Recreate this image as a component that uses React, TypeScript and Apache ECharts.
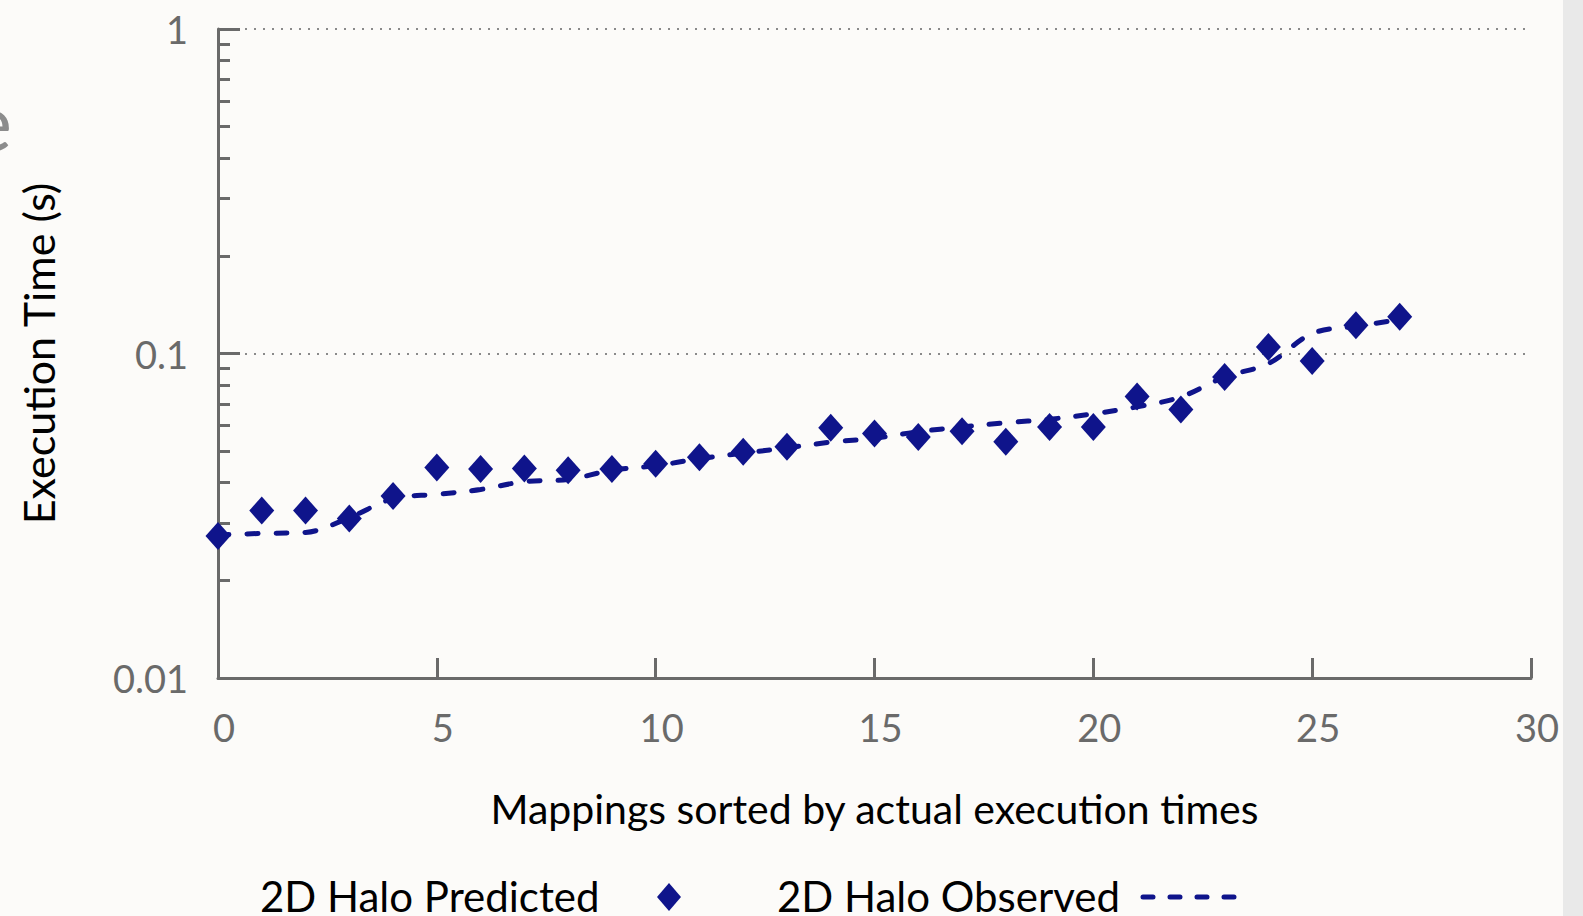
import React, { useEffect, useRef } from "react";
import * as echarts from "echarts";

// ---- data ----
const mappingIndex = [0, 1, 2, 3, 4, 5, 6, 7, 8, 9, 10, 11, 12, 13, 14, 15, 16, 17, 18, 19, 20, 21, 22, 23, 24, 25, 26, 27];
const predictedTimes = [
  0.0274, 0.0328, 0.0328, 0.031, 0.0364, 0.0445, 0.0441, 0.0442, 0.0437, 0.0441,
  0.0457, 0.0479, 0.0498, 0.0516, 0.059, 0.0567, 0.0553, 0.0576, 0.0535, 0.0594,
  0.0594, 0.0737, 0.0672, 0.0847, 0.1048, 0.0949, 0.1223, 0.1297,
];
const observedTimes = [
  0.0276, 0.0279, 0.0281, 0.0312, 0.0357, 0.0368, 0.0381, 0.0403, 0.0409, 0.0437,
  0.0451, 0.0474, 0.0493, 0.0512, 0.0533, 0.0548, 0.0574, 0.0594, 0.0612, 0.0627,
  0.0652, 0.0685, 0.0735, 0.0847, 0.0931, 0.1152, 0.1214, 0.127,
];
const yMinorTicks = [
  0.02, 0.03, 0.04, 0.05, 0.06, 0.07, 0.08, 0.09,
  0.2, 0.3, 0.4, 0.5, 0.6, 0.7, 0.8, 0.9,
];
const seriesNames = ["2D Halo Predicted", "2D Halo Observed"];
const xTitle = "Mappings sorted by actual execution times";
const yTitle = "Execution Time (s)";

const NAVY = "#0f148b";
const AXIS = "#6a6a6a";
const FONT = "Lato";

export default function App() {
  const ref = useRef<HTMLDivElement>(null);
  useEffect(() => {
    if (!ref.current) return;
    const chart = echarts.init(ref.current, undefined, { renderer: "svg" });
    const predicted = mappingIndex.map((x, i) => [x, predictedTimes[i]]);
    const observed = mappingIndex.map((x, i) => [x, observedTimes[i]]);
    chart.setOption({
      animation: false,
      backgroundColor: "#fcfbf9",
      grid: { left: 218, right: 52, top: 29, bottom: 238, containLabel: false },
      xAxis: {
        type: "value",
        min: 0,
        max: 30,
        interval: 5,
        name: xTitle,
        nameLocation: "middle",
        nameGap: 108,
        nameTextStyle: { color: "#000", fontSize: 41, fontFamily: FONT, lineHeight: 44 },
        axisLine: { show: true, lineStyle: { color: AXIS, width: 3 } },
        axisTick: { show: true, inside: true, length: 20, lineStyle: { color: AXIS, width: 3 } },
        axisLabel: { color: AXIS, fontSize: 38, fontFamily: FONT, margin: 30, padding: [0, 0, 0, 12] },
        splitLine: { show: false },
      },
      yAxis: [
        {
          type: "log",
          logBase: 10,
          min: 0.01,
          max: 1,
          position: "left",
          name: yTitle,
          nameLocation: "middle",
          nameRotate: 90,
          nameGap: 157,
          nameTextStyle: { color: "#000", fontSize: 43, fontFamily: FONT, lineHeight: 46 },
          axisLine: { show: true, lineStyle: { color: AXIS, width: 3 } },
          axisTick: { show: true, inside: true, length: 22, lineStyle: { color: AXIS, width: 3 } },
          axisLabel: { color: AXIS, fontSize: 38, fontFamily: FONT, margin: 30 },
          splitLine: { show: true, lineStyle: { color: "#8a8a8a", width: 2, type: [2, 7] } },
        },
        {
          type: "log",
          logBase: 10,
          min: 0.01,
          max: 1,
          position: "left",
          axisLine: { show: false },
          axisTick: { show: true, inside: true, length: 12, customValues: yMinorTicks, lineStyle: { color: AXIS, width: 3 } },
          axisLabel: { show: false },
          splitLine: { show: false },
        },
      ],
      series: [
        {
          name: seriesNames[1],
          type: "line",
          data: observed,
          yAxisIndex: 0,
          symbol: "none",
          smooth: 0.35,
          lineStyle: { color: NAVY, width: 5, type: [11, 18], cap: "round" },
          z: 2,
        },
        {
          name: seriesNames[0],
          type: "scatter",
          data: predicted,
          yAxisIndex: 0,
          symbol: "diamond",
          symbolSize: [25, 28],
          itemStyle: { color: NAVY, opacity: 1 },
          z: 3,
        },
      ],
      graphic: [
        { type: "rect", shape: { x: 1563, y: 0, width: 20, height: 916 }, style: { fill: "#e9e9e9" }, z: 0 },
        { type: "text", x: 12, y: 120, style: { text: "e", fontSize: 80, fontFamily: FONT, fill: "#8c8c8c", align: "right", verticalAlign: "middle" } },
        { type: "text", x: 260, y: 896, style: { text: seriesNames[0], fontSize: 42, fontFamily: FONT, fill: "#000", align: "left", verticalAlign: "middle" } },
        { type: "polygon", shape: { points: [[669, 883], [681, 897], [669, 911], [657, 897]] }, style: { fill: NAVY } },
        { type: "text", x: 777, y: 896, style: { text: seriesNames[1], fontSize: 42, fontFamily: FONT, fill: "#000", align: "left", verticalAlign: "middle" } },
        { type: "line", shape: { x1: 1143, y1: 897, x2: 1240, y2: 897 }, style: { stroke: NAVY, lineWidth: 5, lineDash: [10, 17], lineCap: "round" } },
      ],
    });
    return () => chart.dispose();
  }, []);
  return <div ref={ref} style={{ position: "fixed", left: 0, top: 0, width: 1583, height: 916 }} />;
}
